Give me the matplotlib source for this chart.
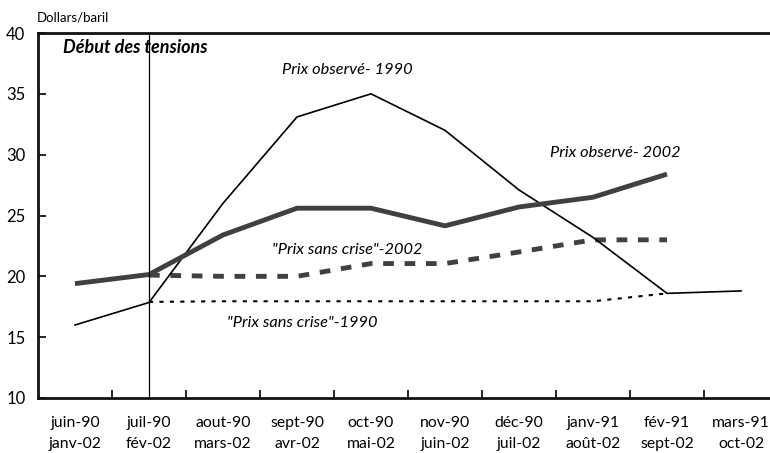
import matplotlib
matplotlib.use("Agg")
import matplotlib.pyplot as plt

plt.rcParams['font.family'] = ['Lato', 'DejaVu Sans']

labels_90 = ["juin-90", "juil-90", "aout-90", "sept-90", "oct-90", "nov-90",
             "déc-90", "janv-91", "fév-91", "mars-91"]
labels_02 = ["janv-02", "fév-02", "mars-02", "avr-02", "mai-02", "juin-02",
             "juil-02", "août-02", "sept-02", "oct-02"]

obs_1990 = [16.0, 17.85, 26.0, 33.1, 35.0, 32.0, 27.1, 23.2, 18.6, 18.8]
obs_2002 = [19.4, 20.15, 23.4, 25.6, 25.6, 24.15, 25.7, 26.5, 28.4]
sans_2002 = [None, 20.1, 20.0, 20.0, 21.05, 21.05, 22.0, 23.0, 23.0]
sans_1990 = [None, 17.9, 17.95, 17.95, 17.95, 17.95, 17.95, 17.95, 18.6]

fig = plt.figure(figsize=(7.7, 4.53), dpi=100)
ax = fig.add_axes([38/770, 1-398/453, 740/770, 365/453])

def xy(vals):
    xs = [i for i, v in enumerate(vals) if v is not None]
    ys = [v for v in vals if v is not None]
    return xs, ys

ax.plot(*xy(sans_1990), color='black', lw=1.5, linestyle=(0, (2, 3)))
ax.plot(*xy(sans_2002), color='#404040', lw=3.5, linestyle=(0, (2.2, 2.2)))
ax.plot(*xy(obs_1990), color='black', lw=1.2)
ax.plot(*xy(obs_2002), color='#404040', lw=3.5, solid_capstyle='butt')
ax.axvline(1, color='black', lw=0.9)

ax.set_xlim(-0.5, 9.5)
ax.set_ylim(10, 40)
ax.set_yticks([10, 15, 20, 25, 30, 35, 40])
ax.set_yticklabels(["10", "15", "20", "25", "30", "35", "40"], fontsize=12)
ax.tick_params(axis='y', direction='in', length=6, width=1.2, pad=9)

ax.set_xticks([i + 0.5 for i in range(10)])
ax.set_xticklabels([])
ax.set_xticks(range(10), minor=True)
ax.set_xticklabels([a + "\n" + b for a, b in zip(labels_90, labels_02)], minor=True,
                   fontsize=11.3, linespacing=1.6)
ax.tick_params(axis='x', which='major', direction='in', length=6, width=1.2)
ax.tick_params(axis='x', which='minor', length=0, pad=13)

for s in ['left', 'bottom', 'top']:
    ax.spines[s].set_linewidth(2)
    ax.spines[s].set_color('#111111')
ax.spines['right'].set_visible(False)

fig.text(37/770, 1-17/453, "Dollars/baril", fontsize=9.5, va='center', ha='left')
ax.text(-0.16, 38.8, "Début des tensions", fontsize=13, style='italic',
        weight='bold', va='center', ha='left')
ax.text(3.68, 37.0, "Prix observé- 1990", fontsize=11.8, style='italic', va='center', ha='center')
ax.text(7.3, 30.1, "Prix observé- 2002", fontsize=11.8, style='italic', va='center', ha='center')
ax.text(3.68, 22.2, "\"Prix sans crise\"-2002", fontsize=11.8, style='italic', va='center', ha='center')
ax.text(3.07, 16.2, "\"Prix sans crise\"-1990", fontsize=11.8, style='italic', va='center', ha='center')

fig.savefig("out.png", dpi=100)
